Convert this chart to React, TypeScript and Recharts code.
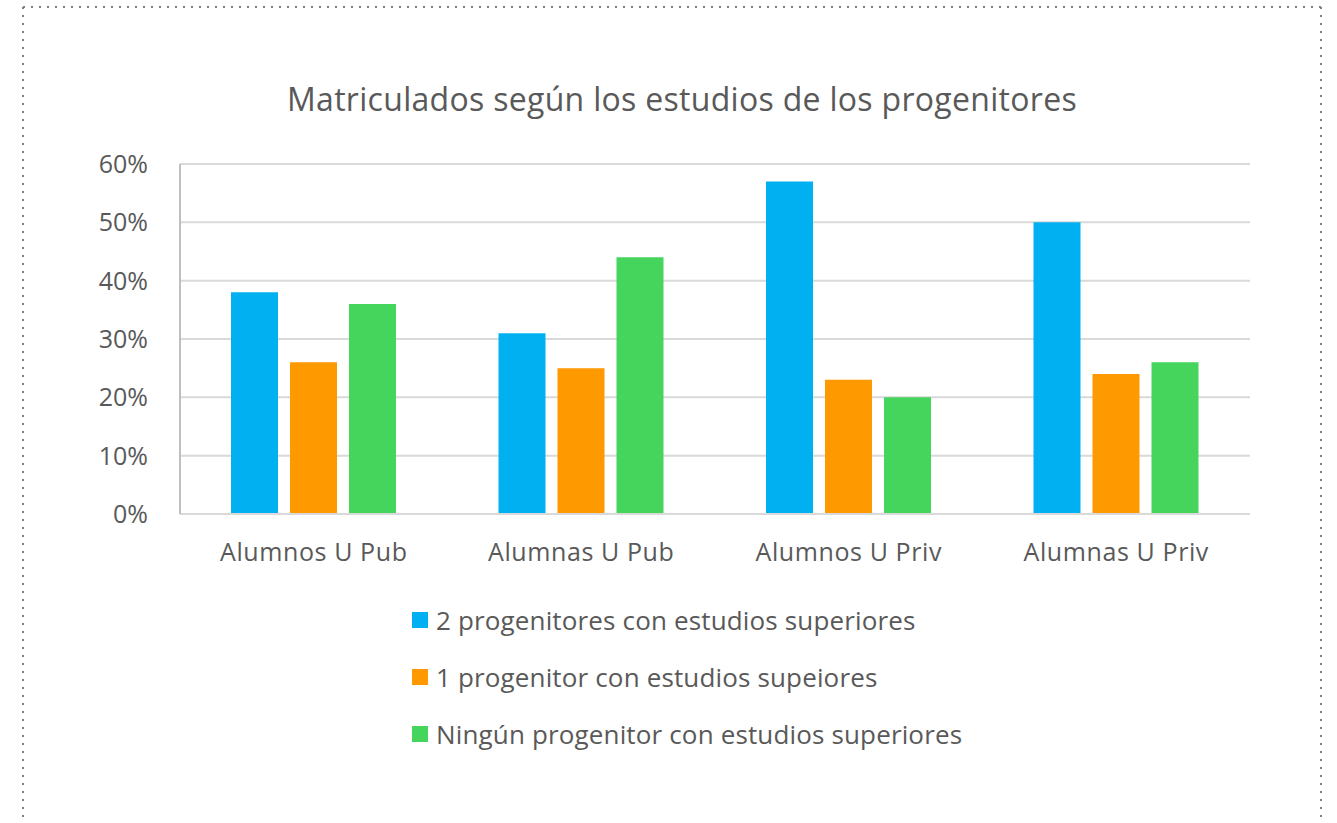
import React from 'react';
import { BarChart, Bar, XAxis, YAxis, CartesianGrid } from 'recharts';

const categories = ['Alumnos U Pub', 'Alumnas U Pub', 'Alumnos U Priv', 'Alumnas U Priv'];
const dosProgenitores = [38, 31, 57, 50];
const unProgenitor = [26, 25, 23, 24];
const ningunProgenitor = [36, 44, 20, 26];
const yTicks = [0, 10, 20, 30, 40, 50, 60];
const seriesNames = [
  '2 progenitores con estudios superiores',
  '1 progenitor con estudios supeiores',
  'Ningún progenitor con estudios superiores',
];
const seriesColors = ['#00B0F0', '#FF9900', '#45D45C'];

const data = categories.map((c, i) => ({
  name: c,
  s0: dosProgenitores[i],
  s1: unProgenitor[i],
  s2: ningunProgenitor[i],
}));

const FONT = '"Open Sans", sans-serif';
const TEXT = '#595959';

export default function App() {
  return (
    <div style={{ position: 'absolute', left: 0, top: 0, width: 1337, height: 823, background: '#fff', overflow: 'hidden' }}>
      <svg width={1337} height={823} style={{ position: 'absolute', left: 0, top: 0 }}>
        <line x1={23} y1={7} x2={1321} y2={7} stroke="#808080" strokeWidth={2} strokeDasharray="2 6" />
        <line x1={23} y1={7} x2={23} y2={823} stroke="#808080" strokeWidth={2} strokeDasharray="2 6" />
        <line x1={1321} y1={7} x2={1321} y2={823} stroke="#808080" strokeWidth={2} strokeDasharray="2 6" />
        <text x={682} y={111} textAnchor="middle" fontFamily={FONT} fontSize={32} fill={TEXT} letterSpacing={0.3}>
          Matriculados según los estudios de los progenitores
        </text>
      </svg>
      <div style={{ position: 'absolute', left: 0, top: 0 }}>
        <BarChart
          width={1337}
          height={823}
          data={data}
          margin={{ top: 164, right: 87, bottom: 259, left: 20 }}
          barSize={47}
          barGap={12}
        >
          <CartesianGrid vertical={false} stroke="#d9d9d9" strokeWidth={2} />
          <XAxis
            dataKey="name"
            tickLine={false}
            axisLine={{ stroke: '#d9d9d9', strokeWidth: 2 }}
            tick={{ fill: TEXT, fontSize: 25, fontFamily: FONT, letterSpacing: 0.6 }}
            tickMargin={23}
            height={50}
            interval={0}
          />
          <YAxis
            domain={[0, 60]}
            ticks={yTicks}
            interval={0}
            tickFormatter={(v: number) => `${v}%`}
            tickLine={false}
            axisLine={{ stroke: '#bfbfbf', strokeWidth: 2 }}
            tick={{ fill: TEXT, fontSize: 25, fontFamily: FONT }}
            tickMargin={26}
            width={160}
          />
          <Bar dataKey="s0" name={seriesNames[0]} fill={seriesColors[0]} isAnimationActive={false} />
          <Bar dataKey="s1" name={seriesNames[1]} fill={seriesColors[1]} isAnimationActive={false} />
          <Bar dataKey="s2" name={seriesNames[2]} fill={seriesColors[2]} isAnimationActive={false} />
        </BarChart>
      </div>
      <div style={{ position: 'absolute', left: 412, top: 591, fontFamily: FONT }}>
        {seriesNames.map((n, i) => (
          <div key={n} style={{ display: 'flex', alignItems: 'center', height: 57 }}>
            <span style={{ display: 'inline-block', width: 16, height: 16, background: seriesColors[i], marginRight: 8 }} />
            <span style={{ fontSize: 26, color: TEXT, letterSpacing: 0.15, whiteSpace: 'nowrap' }}>{n}</span>
          </div>
        ))}
      </div>
    </div>
  );
}
